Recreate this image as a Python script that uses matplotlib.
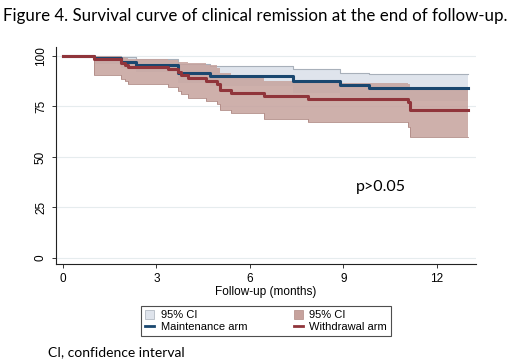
import matplotlib
matplotlib.use("Agg")
import matplotlib.pyplot as plt
from matplotlib.patches import Patch
from matplotlib.lines import Line2D

# ---------------------------
# Data
# ---------------------------
TITLE = "Figure 4. Survival curve of clinical remission at the end of follow-up."
FOOTNOTE = "CI, confidence interval"
X_TICKS = [0, 3, 6, 9, 12]
Y_TICKS = [0, 25, 50, 75, 100]
END_MONTH = 13.0

# Maintenance arm: step times (months) and survival (%)
maint_t = [0, 1.0, 1.85, 2.36, 3.7, 4.71, 7.38, 8.88, 9.82]
maint_s = [100, 98.9, 97.2, 95.6, 91.3, 90.2, 87.4, 85.6, 84.3]
maint_hi = [100, 99.8, 99.5, 98.4, 96.2, 95.2, 93.5, 91.7, 91.0]
maint_lo = [100, 96.0, 93.8, 91.8, 86.5, 85.0, 81.5, 79.5, 77.8]

# Withdrawal arm
withd_t = [0, 1.0, 1.88, 2.0, 2.1, 3.38, 3.7, 3.8, 4.0, 4.6, 4.93, 5.03, 5.4, 6.47, 7.86, 11.07, 11.15]
withd_s = [100, 98.5, 96.7, 95.6, 94.6, 93.4, 91.8, 90.5, 89.3, 87.7, 86.0, 83.1, 81.7, 80.3, 78.7, 77.0, 73.4]
withd_hi = [100, 99.8, 99.4, 99.0, 98.6, 98.0, 97.2, 96.8, 96.5, 95.5, 93.8, 91.5, 90.0, 87.8, 86.7, 86.0, 84.8]
withd_lo = [100, 90.5, 88.5, 87.7, 86.0, 84.4, 82.8, 81.1, 79.2, 77.8, 76.2, 73.2, 71.6, 68.8, 67.1, 64.7, 59.8]

P_TEXT = "p>0.05"

# ---------------------------
# Styles
# ---------------------------
BLUE = "#1a476f"
RED = "#90353b"
BLUE_CI = "#dfe4ec"
BLUE_CI_EDGE = "#a8b0ba"
RED_CI = "#c6a29d"
RED_CI_EDGE = "#b08a85"
TEXT_FONT = ["Lato", "DejaVu Sans"]

plt.rcParams["font.family"] = ["Liberation Sans", "DejaVu Sans"]


def extend(t, v):
    """Carry the last value to the end of follow-up"""
    return list(t) + [END_MONTH], list(v) + [v[-1]]


fig = plt.figure(figsize=(5.2, 3.61), dpi=100)
ax = fig.add_axes([0.1077, 0.2687, 0.8073, 0.6011])

mt, ms = extend(maint_t, maint_s)
_, mhi = extend(maint_t, maint_hi)
_, mlo = extend(maint_t, maint_lo)
wt, ws = extend(withd_t, withd_s)
_, whi = extend(withd_t, withd_hi)
_, wlo = extend(withd_t, withd_lo)

# gridlines
for yv in Y_TICKS:
    ax.axhline(yv, color="#e6ecee", lw=0.8, zorder=0)

# confidence bands
ax.fill_between(mt, mlo, mhi, step="post", color=BLUE_CI, lw=0, zorder=1)
ax.step(mt, mhi, where="post", color=BLUE_CI_EDGE, lw=0.8, zorder=1.5)
ax.fill_between(wt, wlo, whi, step="post", color=RED_CI, alpha=0.85, lw=0, zorder=2)
ax.step(wt, wlo, where="post", color=RED_CI_EDGE, lw=0.6, zorder=2.5)

# survival curves
ax.step(mt, ms, where="post", color=BLUE, lw=2.2, zorder=3)
ax.step(wt, ws, where="post", color=RED, lw=2.2, zorder=4)

ax.text(10.2, 35, P_TEXT, fontsize=11.5, family=TEXT_FONT,
        ha="center", va="center")

ax.set_xlim(-0.22, 13.25)
ax.set_ylim(-3, 104.4)
ax.set_xticks(X_TICKS)
ax.set_yticks(Y_TICKS)
ax.tick_params(axis="both", labelsize=8.5, length=3, width=0.7, color="#333333")
for lab in ax.get_yticklabels():
    lab.set_rotation(90)
    lab.set_va("center")
ax.set_xlabel("Follow-up (months)", fontsize=8.5, labelpad=1)

for side in ("top", "right"):
    ax.spines[side].set_visible(False)
for side in ("left", "bottom"):
    ax.spines[side].set_linewidth(0.8)
    ax.spines[side].set_color("#222222")

handles = [
    Patch(facecolor=BLUE_CI, edgecolor=BLUE_CI_EDGE, lw=0.5),
    Line2D([], [], color=BLUE, lw=2),
    Patch(facecolor=RED_CI, edgecolor=RED_CI_EDGE, lw=0.5),
    Line2D([], [], color=RED, lw=2),
]
labels = ["95% CI", "Maintenance arm", "95% CI", "Withdrawal arm"]
leg = fig.legend(handles, labels, ncol=2, loc="center", bbox_to_anchor=(0.5115, 0.111),
                 fontsize=8, frameon=True, fancybox=False, handlelength=0.8,
                 handleheight=0.9, handletextpad=0.6, columnspacing=4.2,
                 borderpad=0.35, labelspacing=0.1)
leg.get_frame().set_edgecolor("#222222")
leg.get_frame().set_linewidth(0.8)

fig.text(0.006, 0.955, TITLE, fontsize=12.2, family=TEXT_FONT,
         ha="left", va="center")
fig.text(0.092, 0.025, FOOTNOTE, fontsize=10, family=TEXT_FONT,
         ha="left", va="center")

fig.savefig("out.png", dpi=100)
